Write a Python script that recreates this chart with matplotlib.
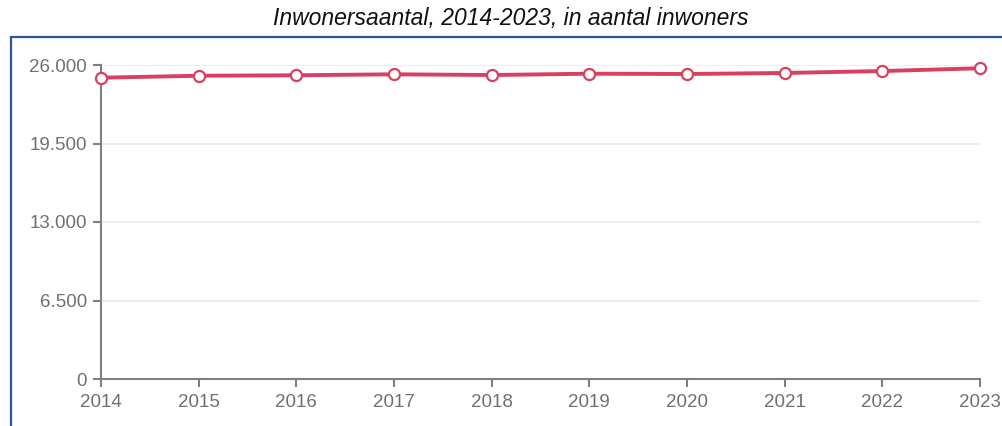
import matplotlib
matplotlib.use("Agg")
import matplotlib.pyplot as plt
from matplotlib.patches import Rectangle
from matplotlib.ticker import FuncFormatter

# data
years = [2014, 2015, 2016, 2017, 2018, 2019, 2020, 2021, 2022, 2023]
inwoners = [24950, 25110, 25150, 25230, 25170, 25280, 25255, 25340, 25500, 25730]
y_ticks = [0, 6500, 13000, 19500, 26000]
title = "Inwonersaantal, 2014-2023, in aantal inwoners"

plt.rcParams['font.family'] = ['Liberation Sans', 'DejaVu Sans']

W, H = 1003, 426
fig = plt.figure(figsize=(W / 100, H / 100), dpi=100)

# blue frame around the chart (open at right and bottom)
fig.patches.append(Rectangle((10.5 / W, -0.2), 1.2, 1.2 - 36.5 / H,
                             transform=fig.transFigure, fill=False,
                             edgecolor='#2c5596', linewidth=1.6))

fig.text(511 / W, 1 - 19 / H, title, ha='center', va='center',
         fontsize=16.5, style='italic', color='#111111')

ax = fig.add_axes([101 / W, 1 - 379 / H, (980 - 101) / W, (379 - 65) / H])

line_col = '#d9405f'
ax.plot(years, inwoners, color=line_col, linewidth=2.8, marker='o',
        markersize=8, markerfacecolor='white', markeredgecolor=line_col,
        markeredgewidth=1.6, clip_on=False, zorder=3)

ax.set_xlim(years[0], years[-1])
ax.set_ylim(0, 26000)
ax.set_xticks(years)
ax.set_yticks(y_ticks)
ax.yaxis.set_major_formatter(FuncFormatter(lambda v, p: f"{int(v):,}".replace(",", ".")))

ax.grid(axis='y', color='#e8e8e8', linewidth=1.1)
ax.set_axisbelow(True)
for s in ['top', 'right']:
    ax.spines[s].set_visible(False)
for s in ['left', 'bottom']:
    ax.spines[s].set_color('#808080')
    ax.spines[s].set_linewidth(1.5)
ax.tick_params(colors='#808080', length=6, width=1.5, labelsize=13.5,
               labelcolor='#707070')
ax.tick_params(axis='x', pad=5)
ax.tick_params(axis='y', pad=4)

fig.savefig('out.png', dpi=100)
